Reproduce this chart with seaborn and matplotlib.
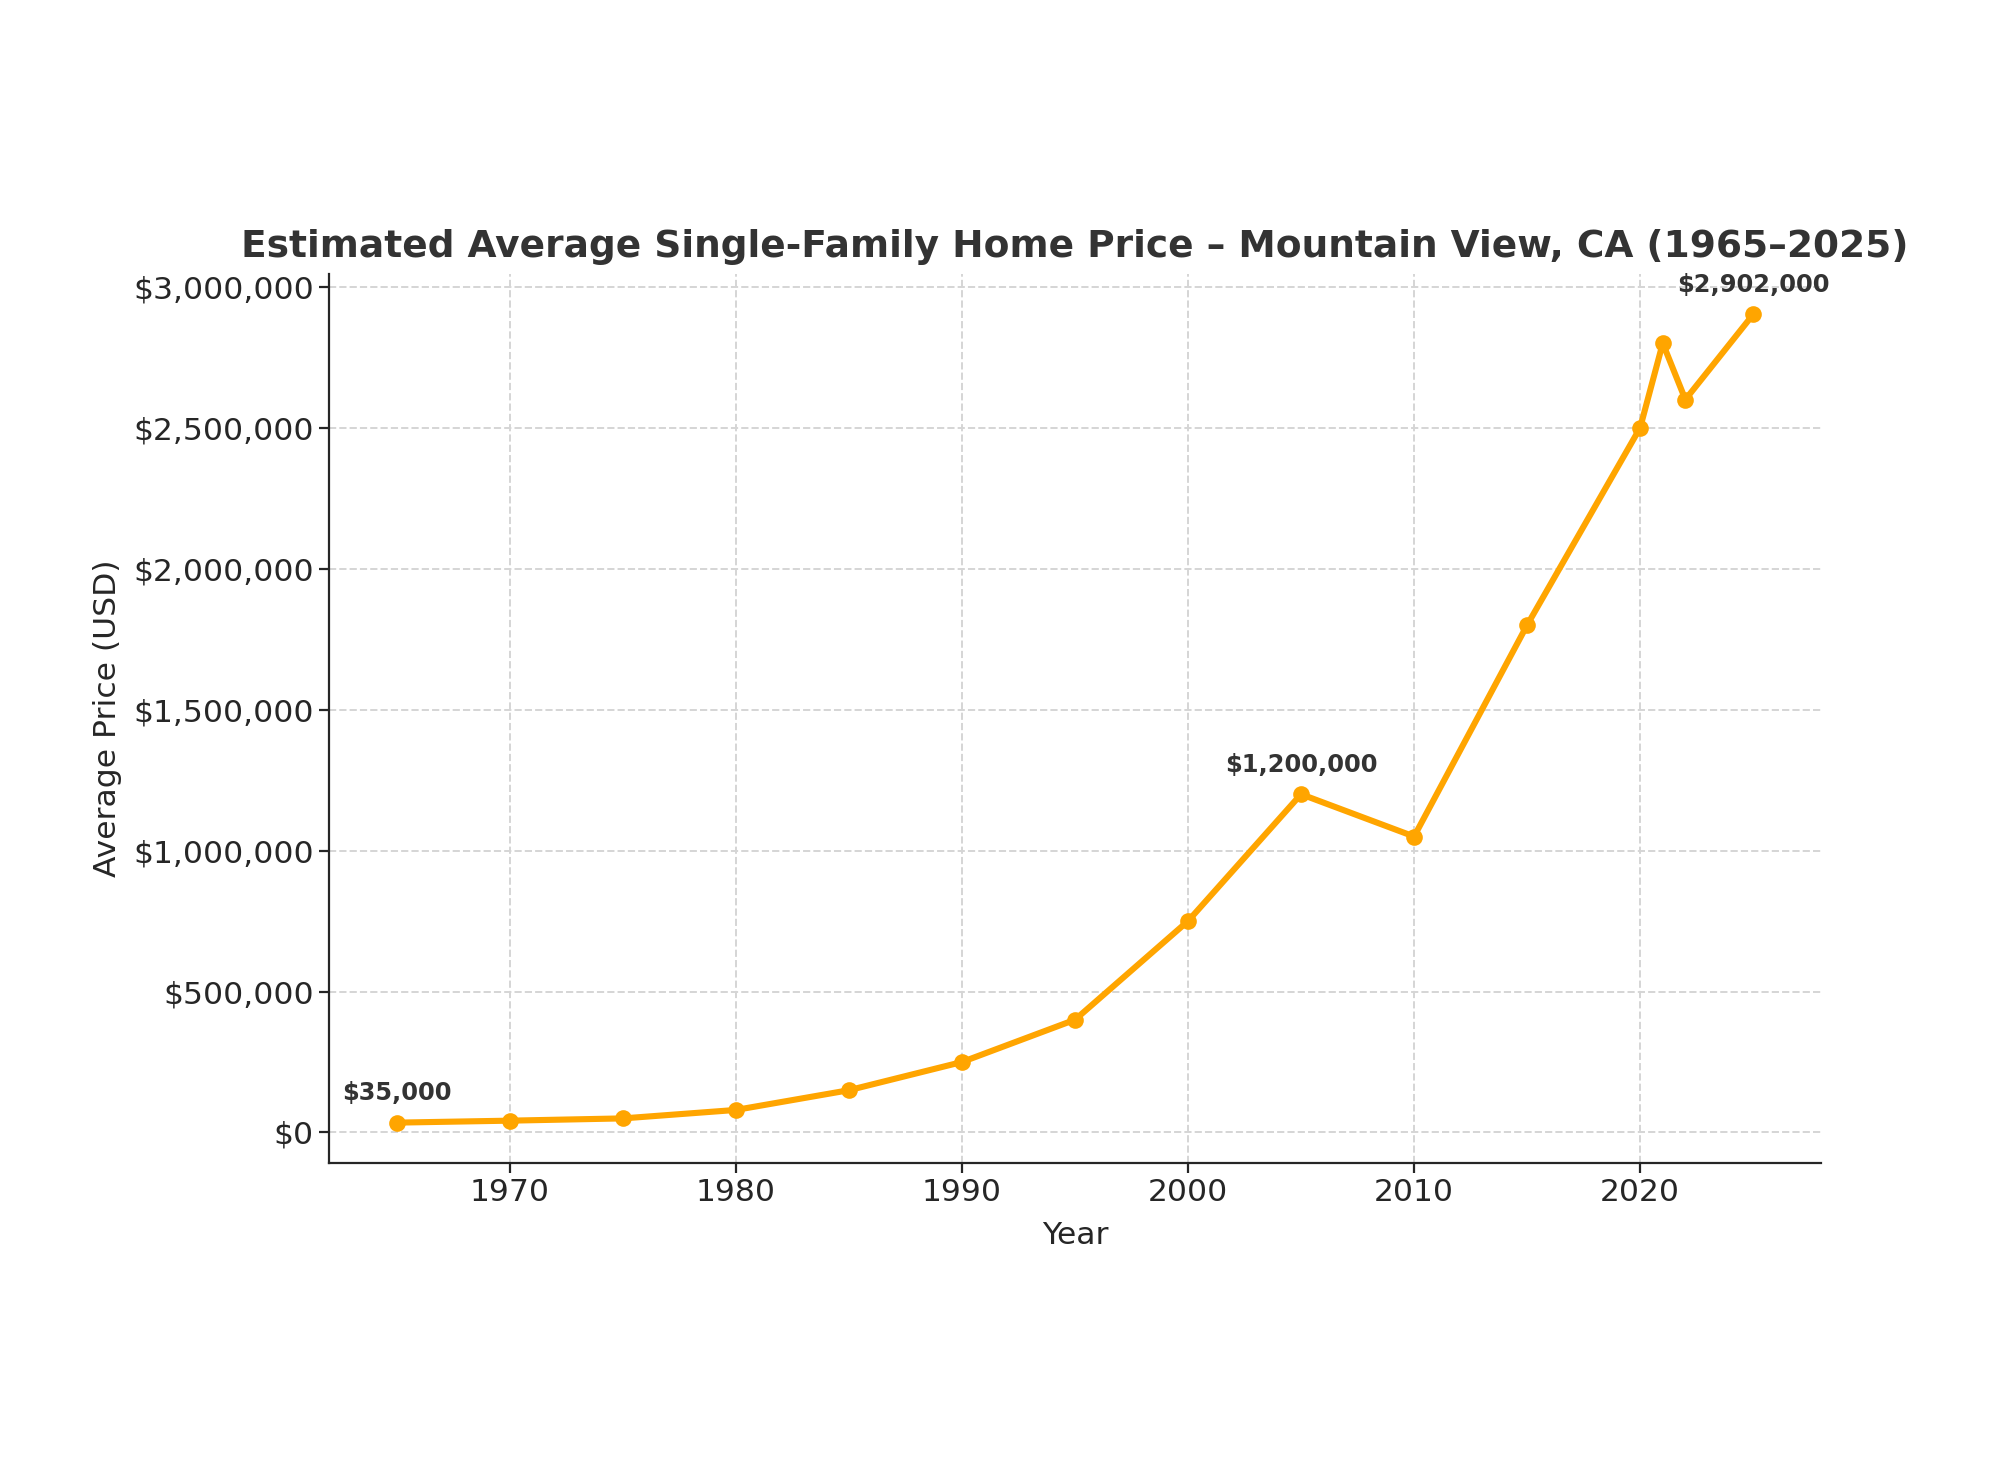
import matplotlib
matplotlib.use("Agg")
import matplotlib.pyplot as plt
import matplotlib.ticker as mticker
import pandas as pd
import seaborn as sns

# ─── Data ─────────────────────────────────────────────────────────────
years = [1965, 1970, 1975, 1980, 1985, 1990, 1995, 2000, 2005, 2010,
         2015, 2020, 2021, 2022, 2025]
prices = [35000, 42000, 50000, 80000, 150000, 250000, 400000, 750000,
          1200000, 1050000, 1800000, 2500000, 2800000, 2600000, 2902000]
highlight_years = [1965, 2005, 2025]

df = pd.DataFrame({"Year": years, "Price": prices})

sns.set_style("ticks")
plt.rcParams["font.family"] = ["DejaVu Sans"]

fig, ax = plt.subplots(figsize=(10, 7.39), dpi=200)
fig.subplots_adjust(left=0.1645, right=0.9105, top=0.8146, bottom=0.2131)

sns.lineplot(data=df, x="Year", y="Price", ax=ax, color="orange",
             marker="o", markersize=6, markeredgewidth=0, linewidth=2.2)

# Annotate selected points
for yr, pr in zip(years, prices):
    if yr in highlight_years:
        ax.annotate(f"${pr:,.0f}", (yr, pr), xytext=(0, 8),
                    textcoords="offset points", ha="center",
                    fontsize=8.7, fontweight="bold", color="#333333")

ax.yaxis.set_major_formatter(mticker.FuncFormatter(lambda v, _: f"${v:,.0f}"))
ax.set_title("Estimated Average Single-Family Home Price – Mountain View, CA (1965–2025)",
             fontsize=13.5, fontweight="bold", color="#333333", pad=6)
ax.set_xlabel("Year", fontsize=11.3, color="#262626", labelpad=5)
ax.set_ylabel("Average Price (USD)", fontsize=11.3, color="#262626")
ax.tick_params(labelsize=11.3, colors="#262626", length=3.5, pad=2)
ax.grid(True, linestyle="--", color="#d5d5d5", linewidth=0.7)
sns.despine(ax=ax)

plt.savefig("out.png", dpi=200)
plt.close()
